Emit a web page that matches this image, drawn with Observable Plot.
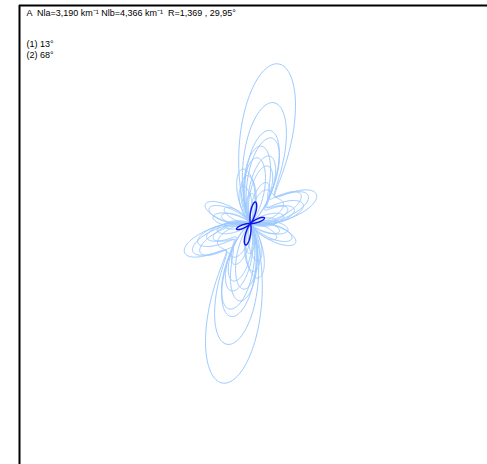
<!DOCTYPE html>
<html><head><meta charset="utf-8">
<script src="https://cdn.jsdelivr.net/npm/d3@7"></script>
<script src="https://cdn.jsdelivr.net/npm/@observablehq/plot@0.6"></script>
<style>html,body{margin:0;padding:0;background:#fff;overflow:hidden}</style>
</head><body><div id="chart"></div>
<script>
// Header texts
const titleText = "A  Nla=3,190 km⁻¹ Nlb=4,366 km⁻¹  R=1,369 , 29,95°";
const setLabels = ["(1) 13°", "(2) 68°"];

// Light-blue rose curves: two lobe directions (azimuth, deg) and lobe lengths per curve
const lightAz1  = [10, 11, 12, 14, 8, 6, 17, -4, -12, 22, 2, 16, -8, 25];
const lightLen1 = [162, 123, 95, 88, 78, 66, 60, 48, 38, 44, 30, 70, 55, 35];
const lightAz2  = [66, 64, 70, 113, 60, 110, 72, 100, 78, 120, 85, 68, 105, 60];
const lightLen2 = [72, 64, 56, 49, 58, 44, 46, 38, 34, 30, 26, 40, 30, 36];

// Dark-blue (mean) rose curve
const darkAz1  = [13];
const darkLen1 = [22];
const darkAz2  = [68];
const darkLen2 = [15];

function roseCurves(az1, len1, az2, len2, p, prefix) {
  const pts = [];
  az1.forEach((a1, i) => {
    const a2 = az2[i], l1 = len1[i], l2 = len2[i];
    for (let t = 0; t <= 360; t += 0.5) {
      const th = t * Math.PI / 180;
      const r = l1 * Math.pow(Math.abs(Math.cos(th - a1 * Math.PI / 180)), p) +
                l2 * Math.pow(Math.abs(Math.cos(th - a2 * Math.PI / 180)), p);
      pts.push({id: prefix + i, x: r * Math.sin(th), y: r * Math.cos(th)});
    }
  });
  return pts;
}

const light = roseCurves(lightAz1, lightLen1, lightAz2, lightLen2, 14, "L");
const dark = roseCurves(darkAz1, darkLen1, darkAz2, darkLen2, 26, "D");

const xDomain = [-231, 237];
const yDomain = [-241, 218];

const chart = Plot.plot({
  width: 487,
  height: 464,
  marginLeft: 19,
  marginTop: 5,
  marginRight: 0,
  marginBottom: 0,
  x: {domain: xDomain, axis: null},
  y: {domain: yDomain, axis: null},
  style: {background: "#fff"},
  marks: [
    Plot.line(light, {x: "x", y: "y", z: "id", stroke: "#9ccaff", strokeWidth: 1}),
    Plot.line(dark, {x: "x", y: "y", z: "id", stroke: "#1212e8", strokeWidth: 1.4}),
    Plot.ruleX([xDomain[0]], {stroke: "#000", strokeWidth: 2}),
    Plot.ruleY([yDomain[1]], {stroke: "#000", strokeWidth: 2}),
    Plot.text([titleText], {text: d => d, frameAnchor: "top-left", textAnchor: "start", lineAnchor: "top",
      dx: 7, dy: 4, fontSize: 9, fontFamily: "Liberation Sans, Arial, sans-serif", fill: "#000"}),
    Plot.text([setLabels.join("\n")], {text: d => d, frameAnchor: "top-left", textAnchor: "start", lineAnchor: "top",
      dx: 7, dy: 34, lineHeight: 1.22, fontSize: 9, fontFamily: "Liberation Sans, Arial, sans-serif", fill: "#000"})
  ]
});
document.getElementById("chart").appendChild(chart);
</script>
</body></html>
